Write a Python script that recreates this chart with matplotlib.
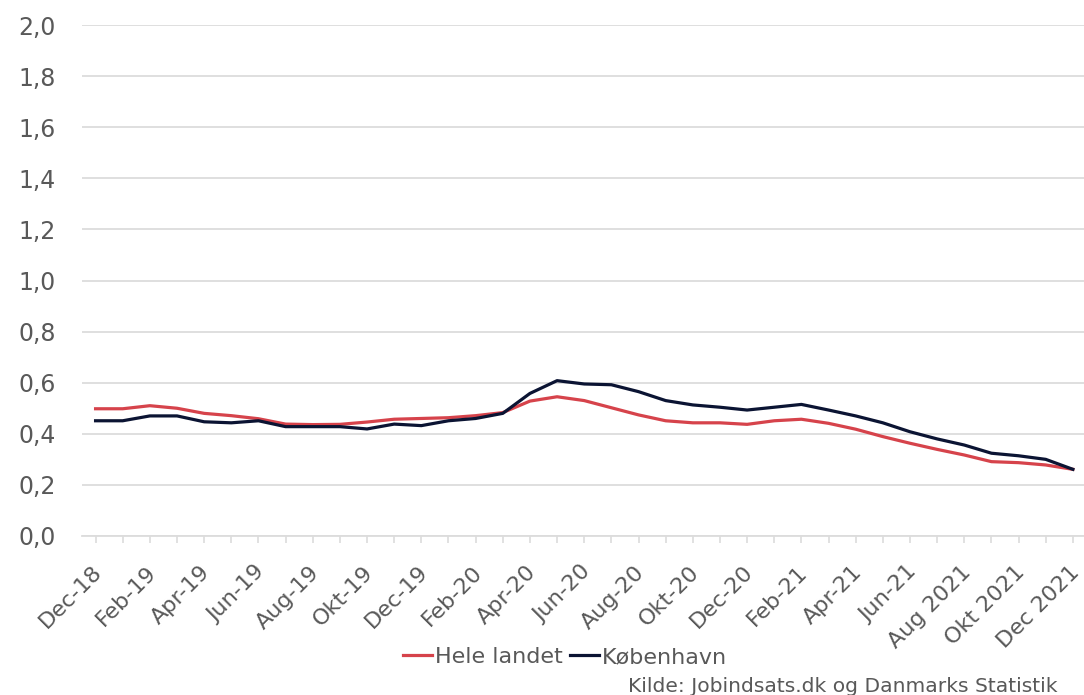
import matplotlib
matplotlib.use('Agg')
import matplotlib.pyplot as plt
import matplotlib.transforms as mtransforms
from matplotlib.ticker import FixedLocator, FuncFormatter

# Monthly values Dec-18 .. Dec 2021
months = [
    'Dec-18', 'Jan-19', 'Feb-19', 'Mar-19', 'Apr-19', 'Maj-19', 'Jun-19', 'Jul-19',
    'Aug-19', 'Sep-19', 'Okt-19', 'Nov-19', 'Dec-19', 'Jan-20', 'Feb-20', 'Mar-20',
    'Apr-20', 'Maj-20', 'Jun-20', 'Jul-20', 'Aug-20', 'Sep-20', 'Okt-20', 'Nov-20',
    'Dec-20', 'Jan-21', 'Feb-21', 'Mar-21', 'Apr-21', 'Maj-21', 'Jun-21', 'Jul 2021',
    'Aug 2021', 'Sep 2021', 'Okt 2021', 'Nov 2021', 'Dec 2021',
]
hele_landet = [
    0.498, 0.498, 0.510, 0.500, 0.480, 0.471, 0.459, 0.438, 0.436, 0.437,
    0.446, 0.457, 0.460, 0.463, 0.471, 0.483, 0.528, 0.545, 0.530, 0.502,
    0.474, 0.451, 0.443, 0.443, 0.437, 0.451, 0.457, 0.441, 0.418, 0.389,
    0.363, 0.339, 0.317, 0.291, 0.287, 0.278, 0.261,
]
koebenhavn = [
    0.451, 0.451, 0.470, 0.470, 0.447, 0.443, 0.451, 0.428, 0.428, 0.428,
    0.419, 0.438, 0.432, 0.451, 0.460, 0.480, 0.558, 0.608, 0.595, 0.592,
    0.565, 0.530, 0.513, 0.504, 0.493, 0.504, 0.515, 0.493, 0.470, 0.443,
    0.408, 0.380, 0.356, 0.324, 0.314, 0.300, 0.261,
]
y_ticks = [0.0, 0.2, 0.4, 0.6, 0.8, 1.0, 1.2, 1.4, 1.6, 1.8, 2.0]

RED = '#d6434b'
NAVY = '#0b1433'
TEXT = '#595959'
GRID = '#dcdcdc'

plt.rcParams['font.family'] = ['DejaVu Sans']

fig = plt.figure(figsize=(10.84, 6.95), dpi=100)
ax = fig.add_axes([82 / 1084, (695 - 536) / 695, 1 - 82 / 1084, (536 - 25) / 695])

x = list(range(len(months)))
ax.plot(x, hele_landet, color=RED, linewidth=2.3, label='Hele landet', solid_joinstyle='round')
ax.plot(x, koebenhavn, color=NAVY, linewidth=2.3, label='København', solid_joinstyle='round')

ax.set_xlim(-0.5, 36.41)
ax.set_ylim(0, 2.0)
ax.set_yticks(y_ticks)
ax.yaxis.set_major_formatter(FuncFormatter(lambda v, p: f'{v:.1f}'.replace('.', ',')))
ax.grid(axis='y', color=GRID, linewidth=1.3)
ax.set_axisbelow(True)

ax.xaxis.set_major_locator(FixedLocator(x[::2]))
ax.xaxis.set_minor_locator(FixedLocator(x))
ax.set_xticklabels(months[::2], rotation=45, ha='right', va='top', rotation_mode='anchor')
ax.tick_params(axis='x', which='major', length=5, color=GRID, width=1.2, labelsize=16,
               labelcolor=TEXT, pad=0)
ax.tick_params(axis='x', which='minor', length=5, color=GRID, width=1.2)
ax.tick_params(axis='y', length=0, labelsize=17, labelcolor=TEXT, pad=19)

# push the rotated labels down like the original
offset = mtransforms.ScaledTranslation(-4 / 100, -19 / 100, fig.dpi_scale_trans)
for lbl in ax.get_xticklabels():
    lbl.set_transform(lbl.get_transform() + offset)

for s in ['top', 'right', 'left']:
    ax.spines[s].set_visible(False)
ax.spines['bottom'].set_color(GRID)
ax.spines['bottom'].set_linewidth(1.3)

fig.legend(loc='center', bbox_to_anchor=(565 / 1084, 1 - 657 / 695), ncol=2,
           frameon=False, fontsize=16, handlelength=1.3, handletextpad=0.15,
           columnspacing=0.3, labelcolor=TEXT)

fig.text(1057 / 1084, 1 - 686 / 695, 'Kilde: Jobindsats.dk og Danmarks Statistik',
         ha='right', va='center', fontsize=14.6, color=TEXT)

fig.savefig('out.png', dpi=100)
